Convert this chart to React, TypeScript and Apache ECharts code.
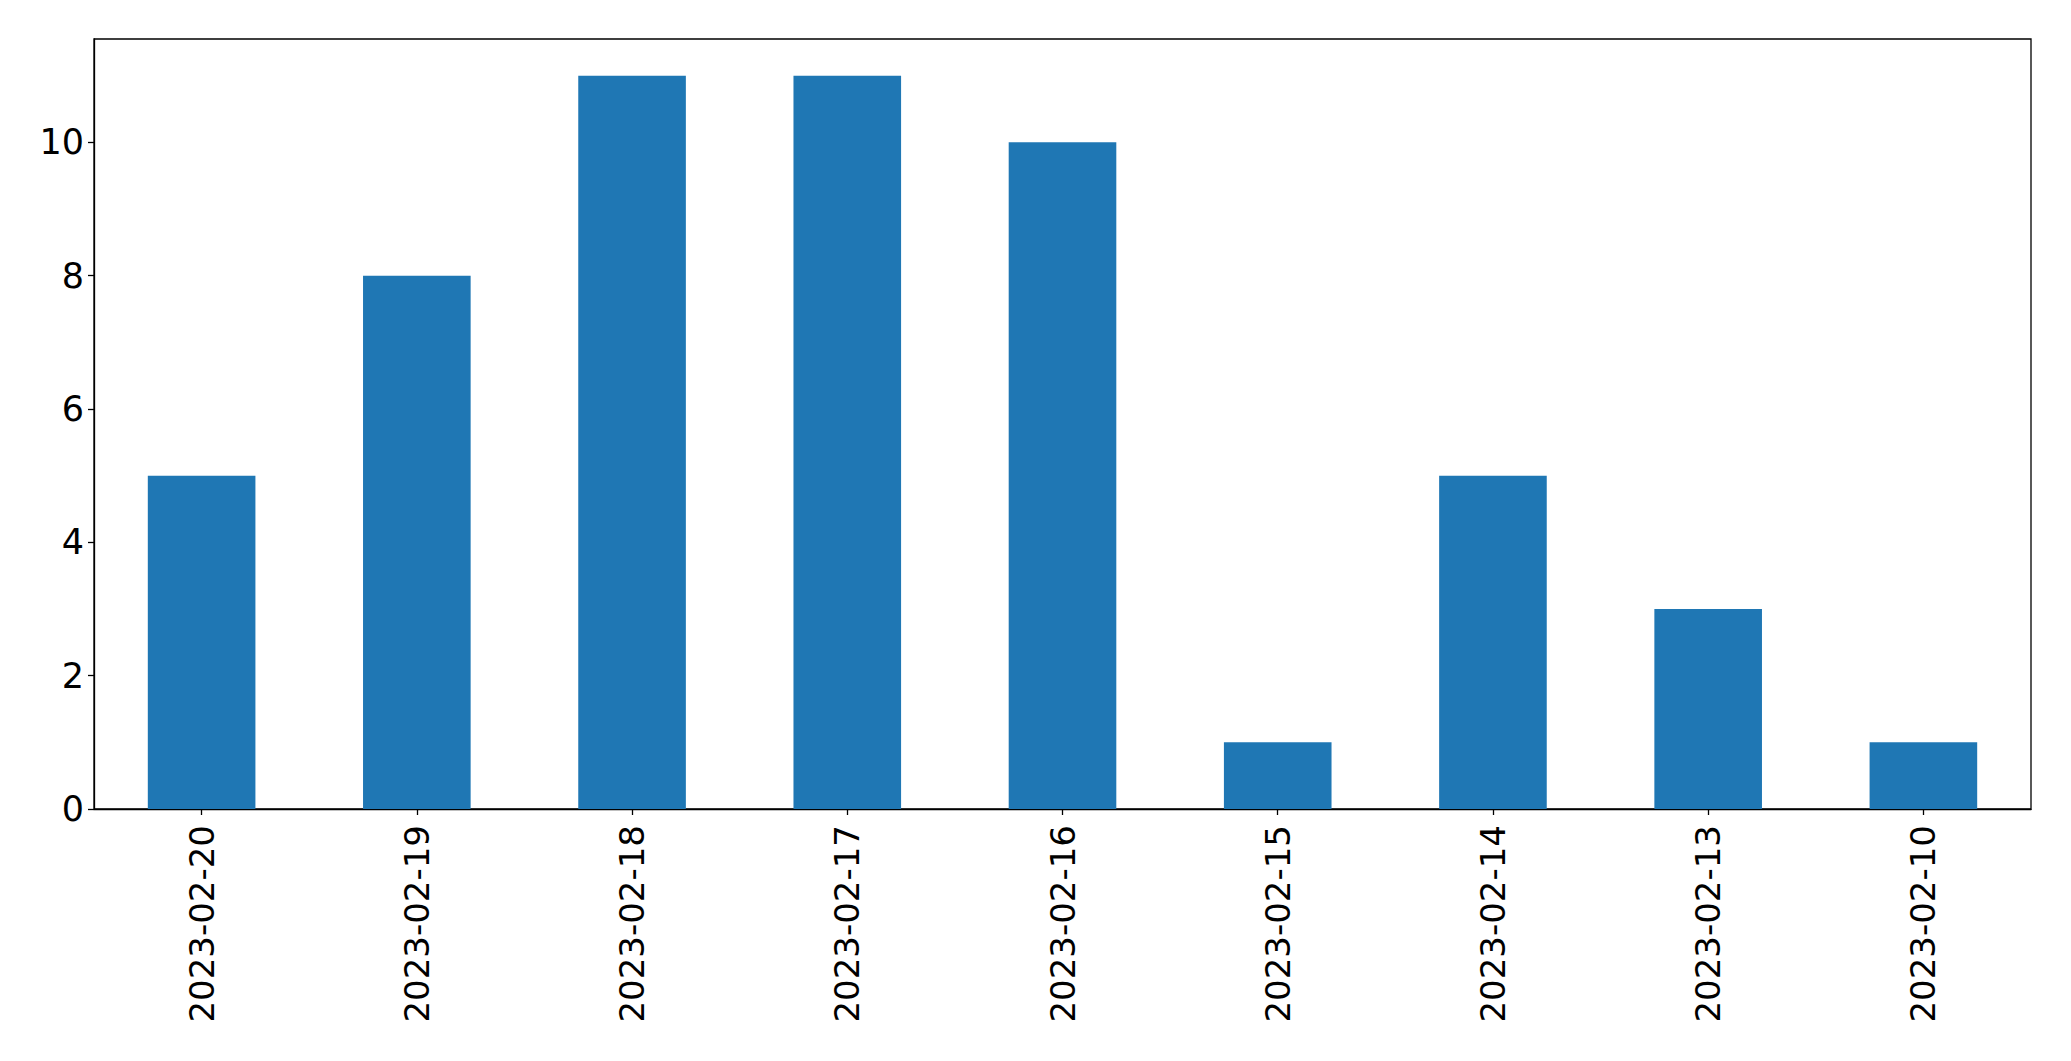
import React, { useEffect, useRef } from "react";
import * as echarts from "echarts";

const categories = [
  "2023-02-20",
  "2023-02-19",
  "2023-02-18",
  "2023-02-17",
  "2023-02-16",
  "2023-02-15",
  "2023-02-14",
  "2023-02-13",
  "2023-02-10",
];
const counts = [5, 8, 11, 11, 10, 1, 5, 3, 1];

export default function App() {
  const ref = useRef<HTMLDivElement>(null);
  useEffect(() => {
    document.body.style.margin = "0";
    const chart = echarts.init(ref.current!, null, { renderer: "svg" });
    const font = "DejaVu Sans";
    chart.setOption({
      animation: false,
      backgroundColor: "#ffffff",
      grid: {
        left: 94,
        top: 39,
        width: 1937,
        height: 770,
        show: true,
        borderColor: "#000",
        borderWidth: 1.3,
        backgroundColor: "transparent",
      },
      xAxis: {
        type: "category",
        data: categories,
        axisLine: { show: true, lineStyle: { color: "#000", width: 1.3 } },
        axisTick: {
          show: true,
          alignWithLabel: true,
          length: 6,
          lineStyle: { color: "#000", width: 1.3 },
        },
        axisLabel: {
          rotate: 90,
          margin: 16,
          fontSize: 34,
          fontFamily: font,
          color: "#000",
        },
        splitLine: { show: false },
      },
      yAxis: {
        type: "value",
        min: 0,
        max: 11.55,
        interval: 2,
        axisLine: { show: true, lineStyle: { color: "#000", width: 1.3 } },
        axisTick: {
          show: true,
          length: 6,
          lineStyle: { color: "#000", width: 1.3 },
        },
        axisLabel: {
          margin: 10,
          fontSize: 35,
          fontFamily: font,
          color: "#000",
          showMaxLabel: false,
        },
        splitLine: { show: false },
      },
      series: [
        {
          type: "bar",
          data: counts,
          barWidth: "50%",
          itemStyle: { color: "#1f77b4" },
        },
      ],
    });
    return () => chart.dispose();
  }, []);
  return <div ref={ref} style={{ width: 2071, height: 1061 }} />;
}
